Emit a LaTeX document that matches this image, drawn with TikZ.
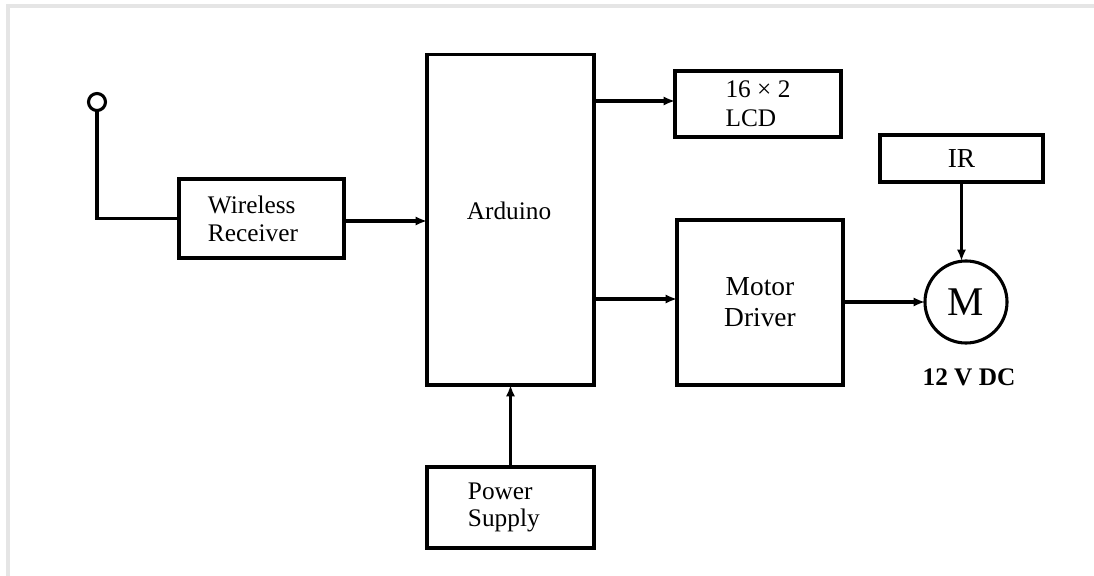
\documentclass[tikz,border=0pt]{standalone}
\usepackage{fontspec}
\setmainfont{Liberation Serif}
\usetikzlibrary{arrows.meta}

\begin{document}
\begin{tikzpicture}[x=0.025cm, y=-0.025cm,
    >={Latex[length=8pt,width=6.5pt]},
    block/.style={draw, line width=2.2pt, inner sep=0pt, outer sep=0pt,
        font=\fontsize{18}{20}\selectfont},
    wire/.style={line width=2.2pt}
]
    % Page and frame shadow
    \useasboundingbox (0,0) rectangle (1094,576);
    \draw[gray!20, line width=2.5pt] (8,576) -- (8,6) -- (1094,6);

    % Blocks
    \node[block, minimum width=4.125cm, minimum height=1.975cm,
        text width=2.675cm, align=left] (wr) at (261.5,218.5)
        {Wireless\\Receiver};
    \node[block, minimum width=4.175cm, minimum height=8.25cm] (ard)
        at (510.5,220) {};
    \node[font=\fontsize{18}{20}\selectfont] (ardtxt) at (509,211) {Arduino};
    \node[block, minimum width=4.15cm, minimum height=1.65cm,
        align=left, font=\fontsize{18}{20.5}\selectfont] (lcd) at (758,104)
        {16 × 2\\LCD};
    \node[block, minimum width=4.15cm, minimum height=4.125cm,
        align=center, font=\fontsize{19.5}{22}\selectfont] (md) at (760,302.5)
        {Motor\\Driver};
    \node[block, minimum width=4.075cm, minimum height=1.175cm,
        font=\fontsize{19.5}{22}\selectfont] (ir) at (961.5,158.5) {IR};
    \node[block, minimum width=4.175cm, minimum height=2.025cm,
        text width=2.125cm, align=left, font=\fontsize{18}{19}\selectfont]
        (ps) at (510.5,507.5) {Power\\Supply};

    % Motor and antenna
    \node[block, circle, minimum size=2.05cm,
        font=\fontsize{29}{30}\selectfont] (mot) at (966,302) {M};
    \node[font=\bfseries\fontsize{18}{20}\selectfont] (dc) at (969,377)
        {12 V DC};
    \node[block, circle, minimum size=0.425cm] (ant) at (97,102) {};

    % Connections
    \draw[wire] (ant.south) |- (wr.west);
    \draw[wire, ->] (wr.east |- 0,221) -- (ard.west |- 0,221);
    \draw[wire, ->] (ard.east |- 0,101) -- (lcd.west |- 0,101);
    \draw[wire, ->] (ard.east |- 0,299) -- (md.west |- 0,299);
    \draw[wire, ->] (md.east |- mot.west) -- (mot.west);
    \draw[wire, ->] (ir.south) -- (ir.south |- mot.north);
    \draw[wire, ->] (ps.north) -- (ard.south);
\end{tikzpicture}
\end{document}
